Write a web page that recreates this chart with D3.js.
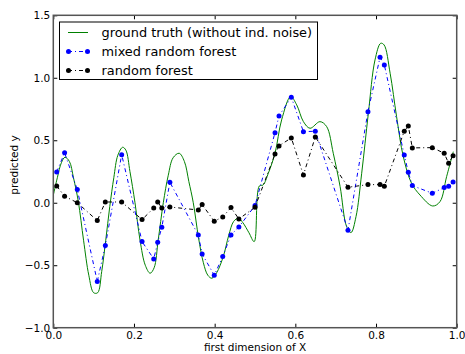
<!DOCTYPE html>
<html>
<head>
<meta charset="utf-8">
<script src="https://cdn.jsdelivr.net/npm/d3@7"></script>
<style>
  html, body { margin: 0; padding: 0; background: #fff; }
  svg { display: block; font-family: "DejaVu Sans", sans-serif; }
</style>
</head>
<body>
<svg id="chart" width="465" height="354"></svg>
<script>
// Sample positions shared by both forest predictions
const sampleX = [0.0084, 0.028, 0.0595, 0.109, 0.129, 0.1695, 0.220, 0.249, 0.2588, 0.269, 0.289,
  0.3594, 0.369, 0.399, 0.420, 0.4405, 0.460, 0.500, 0.5496, 0.5595, 0.590, 0.620, 0.6495,
  0.7305, 0.780, 0.810, 0.8206, 0.870, 0.880, 0.890, 0.9395, 0.969, 0.980, 0.991];

const mixedForestY = [0.246, 0.40, 0.105, -0.63, -0.343, 0.385, -0.311, -0.45, -0.316, -0.196, 0.164,
  -0.258, -0.41, -0.58, -0.431, -0.258, -0.194, -0.023, 0.561, 0.695, 0.844, 0.569, 0.572,
  -0.22, 0.729, 1.164, 1.103, 0.382, 0.244, 0.137, 0.076, 0.121, 0.132, 0.166];

const randomForestY = [0.134, 0.052, 0.0, -0.143, 0.006, 0.006, -0.135, -0.042, 0.006, -0.042, -0.034,
  -0.058, -0.015, -0.148, -0.114, -0.039, -0.13, -0.036, 0.39, 0.455, 0.519, 0.222, 0.527,
  0.124, 0.145, 0.145, 0.132, 0.572, 0.615, 0.439, 0.441, 0.396, 0.316, 0.377];

// Noise-free target function
const truthX = [0.0, 0.01, 0.02, 0.029, 0.04, 0.05, 0.062, 0.075, 0.088, 0.1, 0.11, 0.12, 0.13, 0.14,
  0.15, 0.16, 0.172, 0.18, 0.19, 0.2025, 0.215, 0.228, 0.24, 0.25, 0.26, 0.2727, 0.285, 0.297,
  0.312, 0.325, 0.336, 0.347, 0.36, 0.372, 0.383, 0.393, 0.405, 0.4214, 0.435, 0.447, 0.459,
  0.47, 0.485, 0.498, 0.5107, 0.52, 0.533, 0.5496, 0.566, 0.5885, 0.6034, 0.62, 0.6364, 0.661,
  0.6777, 0.694, 0.711, 0.727, 0.738, 0.7504, 0.7645, 0.781, 0.7975, 0.8116, 0.82, 0.835, 0.851,
  0.8676, 0.888, 0.909, 0.9405, 0.9586, 0.975, 0.9916];
const truthY = [0.06, 0.2, 0.32, 0.364, 0.33, 0.2, 0.01, -0.3, -0.58, -0.72, -0.72, -0.55, -0.3, -0.03,
  0.2, 0.38, 0.444, 0.42, 0.25, 0.0, -0.3, -0.5, -0.564, -0.52, -0.3, 0.0, 0.22, 0.36,
  0.396, 0.33, 0.17, 0.0, -0.28, -0.48, -0.58, -0.604, -0.56, -0.43, -0.26, -0.15, -0.124,
  -0.16, -0.24, -0.311, 0.134, 0.142, 0.236, 0.396, 0.663, 0.849, 0.783, 0.649, 0.596, 0.649,
  0.609, 0.396, 0.129, -0.19, -0.239, -0.111, 0.236, 0.716, 1.143, 1.276, 1.263, 1.036, 0.689,
  0.369, 0.156, 0.062, -0.026, 0.009, 0.209, 0.409];

const xTicks = [0.0, 0.2, 0.4, 0.6, 0.8, 1.0];
const yTicks = [-1.0, -0.5, 0.0, 0.5, 1.0, 1.5];
const legendLabels = ["ground truth (without ind. noise)", "mixed random forest", "random forest"];

(function draw() {
  const svg = d3.select("#chart");
  const x0 = 53.3, x1 = 456.7, y0 = 15.3, y1 = 327.7;

  const x = d3.scaleLinear().domain([0, 1]).range([x0, x1]);
  const y = d3.scaleLinear().domain([-1, 1.5]).range([y1, y0]);

  const fmt = v => (v < 0 ? "\u2212" : "") + Math.abs(v).toFixed(1);

  // Plot contents clipped to the axes box
  svg.append("defs").append("clipPath").attr("id", "clip")
    .append("rect").attr("x", x0).attr("y", y0)
    .attr("width", x1 - x0).attr("height", y1 - y0);
  const plot = svg.append("g").attr("clip-path", "url(#clip)");

  const truth = truthX.map((v, i) => [v, truthY[i]]);
  const mixed = sampleX.map((v, i) => [v, mixedForestY[i]]);
  const rf = sampleX.map((v, i) => [v, randomForestY[i]]);

  plot.append("path").datum(truth)
    .attr("d", d3.line().x(d => x(d[0])).y(d => y(d[1])).curve(d3.curveCatmullRom.alpha(0.5)))
    .attr("fill", "none").attr("stroke", "#008000").attr("stroke-width", 1);

  function series(data, color) {
    plot.append("path").datum(data)
      .attr("d", d3.line().x(d => x(d[0])).y(d => y(d[1])))
      .attr("fill", "none").attr("stroke", color).attr("stroke-width", 1)
      .attr("stroke-dasharray", "4,3,1,3");
    plot.selectAll(null).data(data).enter().append("circle")
      .attr("cx", d => x(d[0])).attr("cy", d => y(d[1])).attr("r", 2.5)
      .attr("fill", color);
  }
  series(mixed, "#0000ff");
  series(rf, "#000000");

  // Axes: ticks point inward on all four sides
  const axisG = svg.append("g");
  const tickLen = 4;
  axisG.append("g").attr("transform", `translate(0,${y1})`)
    .call(d3.axisBottom(x).tickValues(xTicks).tickSize(-tickLen).tickPadding(4).tickFormat(d => d.toFixed(1)));
  axisG.append("g").attr("transform", `translate(0,${y0})`)
    .call(d3.axisTop(x).tickValues(xTicks).tickSize(-tickLen).tickFormat(""));
  axisG.append("g").attr("transform", `translate(${x0},0)`)
    .call(d3.axisLeft(y).tickValues(yTicks).tickSize(-tickLen).tickPadding(3).tickFormat(fmt));
  axisG.append("g").attr("transform", `translate(${x1},0)`)
    .call(d3.axisRight(y).tickValues(yTicks).tickSize(-tickLen).tickFormat(""));
  axisG.selectAll(".domain").remove();
  axisG.selectAll(".tick line").attr("stroke", "#000").attr("stroke-width", 1);
  axisG.selectAll("text").attr("font-size", 10.5).attr("fill", "#000")
    .attr("font-family", "DejaVu Sans, sans-serif");

  // Frame
  svg.append("rect").attr("x", x0).attr("y", y0)
    .attr("width", x1 - x0).attr("height", y1 - y0)
    .attr("fill", "none").attr("stroke", "#555").attr("stroke-width", 1.5);

  // Axis labels
  svg.append("text").attr("x", (x0 + x1) / 2).attr("y", 351)
    .attr("text-anchor", "middle").attr("font-size", 10.5).text("first dimension of X");
  svg.append("text").attr("transform", "translate(18,165) rotate(-90)")
    .attr("text-anchor", "middle").attr("font-size", 10.5).text("predicted y");

  // Legend
  const lg = svg.append("g");
  lg.append("rect").attr("x", 59.5).attr("y", 22).attr("width", 258).attr("height", 57.5)
    .attr("fill", "#fff").attr("stroke", "#000").attr("stroke-width", 1);
  const legendStyles = [
    { color: "#008000", dash: null, marker: false },
    { color: "#0000ff", dash: "4,3,1,3", marker: true },
    { color: "#000000", dash: "4,3,1,3", marker: true }
  ];
  legendLabels.forEach((label, i) => {
    const yy = 32.5 + i * 19;
    const s = legendStyles[i];
    lg.append("line").attr("x1", 68).attr("x2", 88).attr("y1", yy).attr("y2", yy)
      .attr("stroke", s.color).attr("stroke-width", 1).attr("stroke-dasharray", s.dash);
    if (s.marker) {
      [68.5, 87.5].forEach(cx => lg.append("circle").attr("cx", cx).attr("cy", yy).attr("r", 2.5).attr("fill", s.color));
    }
    lg.append("text").attr("x", 101.5).attr("y", yy + 4.5).attr("font-size", 12.9).text(label);
  });
})();
</script>
</body>
</html>
